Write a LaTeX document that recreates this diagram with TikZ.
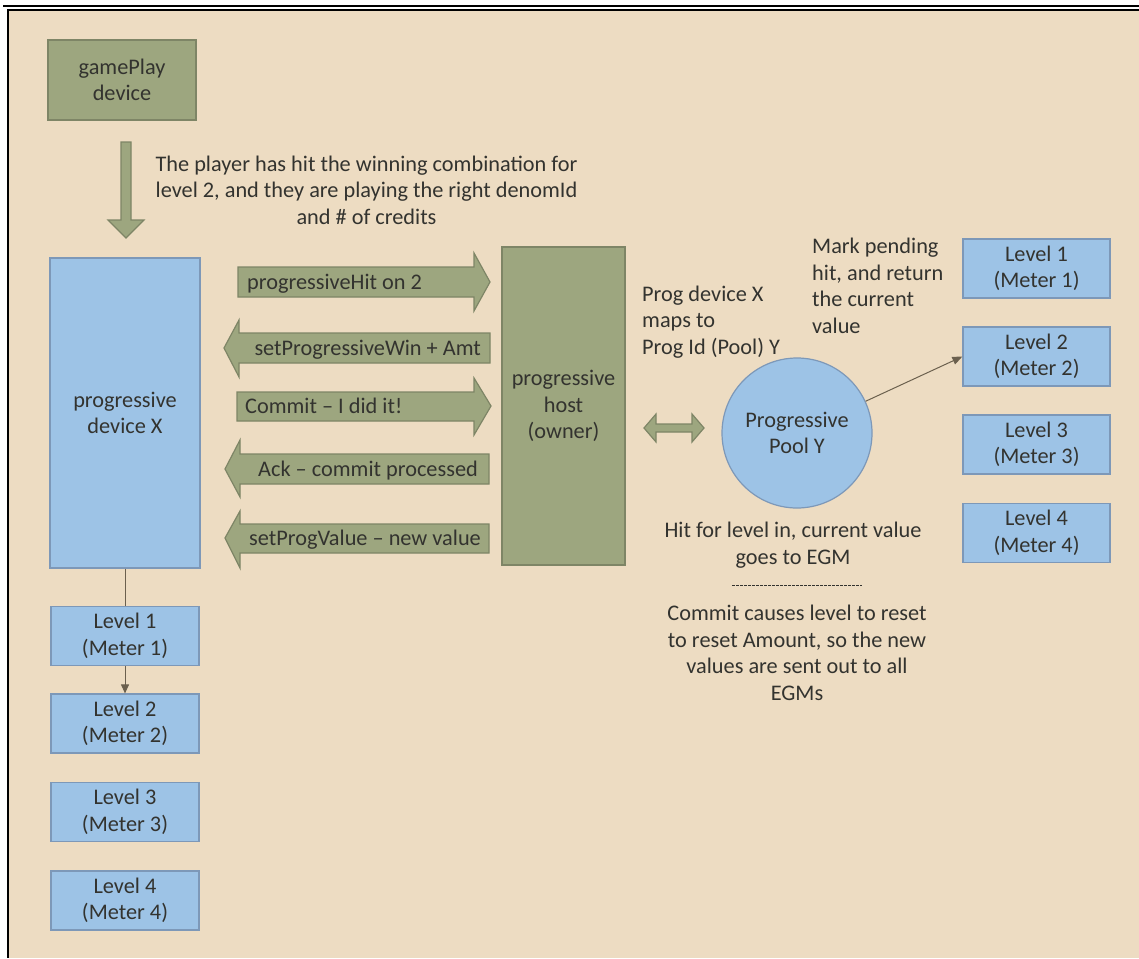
\documentclass[tikz,border=0pt]{standalone}
\usepackage{fontspec}
\setmainfont{Carlito}
\usetikzlibrary{arrows.meta,positioning}
\definecolor{paper}{HTML}{EDDCC2}
\definecolor{olive}{HTML}{9DA67F}
\definecolor{oliveline}{HTML}{7E8566}
\definecolor{skyfill}{HTML}{9DC3E6}
\definecolor{skyline}{HTML}{7D98B8}
\definecolor{ink}{HTML}{33332F}
\definecolor{wire}{HTML}{6B604E}
\tikzset{
  txt/.style={font=\fontsize{22.3}{26.5}\selectfont, text=ink, inner sep=0pt},
  msg/.style={txt, text height=14pt, text depth=0pt},
  greenbox/.style={txt, draw=oliveline, fill=olive, line width=1.2pt, align=center},
  bluebox/.style={txt, draw=skyline, fill=skyfill, line width=1.2pt, align=center},
  levelbox/.style={bluebox, minimum width=148pt, minimum height=59pt},
  blockarrow/.style={draw=oliveline, fill=olive, line width=1.2pt},
}
\begin{document}
\begin{tikzpicture}[x=1pt,y=-1pt]
    \useasboundingbox (0,0) rectangle (1139,958);
    % paper and frame
    \fill[white] (0,0) rectangle (1139,958);
    \fill[paper] (9,11) rectangle (1139,958);
    \draw[line width=2pt] (3,6) -- (1139,6);
    \draw[line width=2pt] (7,10) -- (1139,10);
    \draw[line width=2pt] (8,10) -- (8,958);

    % game play side
    \node[greenbox, minimum width=148pt, minimum height=80pt] (game) at (122,80) {gamePlay\\device};
    \draw[blockarrow] (121,142) -- (131,142) -- (131,220) -- (144,220) -- (126,238) -- (108,220) -- (121,220) -- cycle;
    \node[txt, align=center] (note) at (366.5,190) {The player has hit the winning combination for\\level 2, and they are playing the right denomId\\and \# of credits};

    % progressive device and its levels
    \node[bluebox, minimum width=150pt, minimum height=310pt] (devX) at (125,413) {progressive\\device X};
    \foreach \i/\y in {1/636,2/723.5,3/812,4/900.5}
        \node[levelbox] (lvlL\i) at (125,\y) {Level \i\\(Meter \i)};
    \draw[wire, line width=1pt] (devX.south) -- (lvlL1.north);
    \draw[wire, line width=1pt, -{Triangle[length=9pt,width=8pt]}] (lvlL1.south) -- (lvlL2.north);

    % host
    \node[greenbox, minimum width=123pt, minimum height=318pt] (host) at (563.5,406) {progressive\\host\\(owner)};

    % messages
    \draw[blockarrow] (238,267) -- (474,267) -- (474,253) -- (490,282) -- (474,311) -- (474,297) -- (238,297) -- cycle;
    \node[msg, anchor=west] (hit) at (247,282) {progressiveHit on 2};
    \draw[blockarrow] (490,333) -- (239,333) -- (239,320) -- (224,348) -- (239,377) -- (239,363) -- (490,363) -- cycle;
    \node[msg, anchor=east] (win) at (481,348) {setProgressiveWin + Amt};
    \draw[blockarrow] (237,392) -- (474,392) -- (474,378) -- (491,406) -- (474,435) -- (474,421) -- (237,421) -- cycle;
    \node[msg, anchor=west] (commit) at (245,406) {Commit -- I did it!};
    \draw[blockarrow] (489,454) -- (240,454) -- (240,440) -- (225,469) -- (240,497) -- (240,484) -- (489,484) -- cycle;
    \node[msg, anchor=east] (ack) at (478,469) {Ack -- commit processed};
    \draw[blockarrow] (489,524) -- (240,524) -- (240,511) -- (225,538) -- (240,568) -- (240,553) -- (489,553) -- cycle;
    \node[msg, anchor=east] (value) at (481,538) {setProgValue -- new value};

    % pool
    \draw[blockarrow] (644,428) -- (656,414) -- (656,424) -- (692,424) -- (692,414) -- (704,428) -- (692,442) -- (692,432) -- (656,432) -- (656,442) -- cycle;
    \node[bluebox, circle, minimum size=150pt] (pool) at (797,433) {Progressive\\Pool Y};
    \node[txt, align=left, anchor=west] (maps) at (642,322) {Prog device X\\maps to\\Prog Id (Pool) Y};
    \node[txt, align=left, anchor=west] (mark) at (812,286) {Mark pending\\hit, and return\\the current\\value};
    \node[txt, align=center] (hitnote) at (793,545) {Hit for level in, current value\\goes to EGM};
    \draw[ink, line width=0.8pt, dash pattern=on 2.5pt off 1.5pt] (732,585) -- (862,585);
    \node[txt, align=center] (reset) at (797,653) {Commit causes level to reset\\to reset Amount, so the new\\values are sent out to all\\EGMs};

    % pool levels
    \foreach \i/\y in {1/268.5,2/356.5,3/444.5,4/533}
        \node[levelbox, minimum width=147pt] (lvlR\i) at (1036.5,\y) {Level \i\\(Meter \i)};
    \draw[wire, line width=1pt, -{Triangle[length=10pt,width=8pt]}] (pool) -- (lvlR2.west);
\end{tikzpicture}
\end{document}
